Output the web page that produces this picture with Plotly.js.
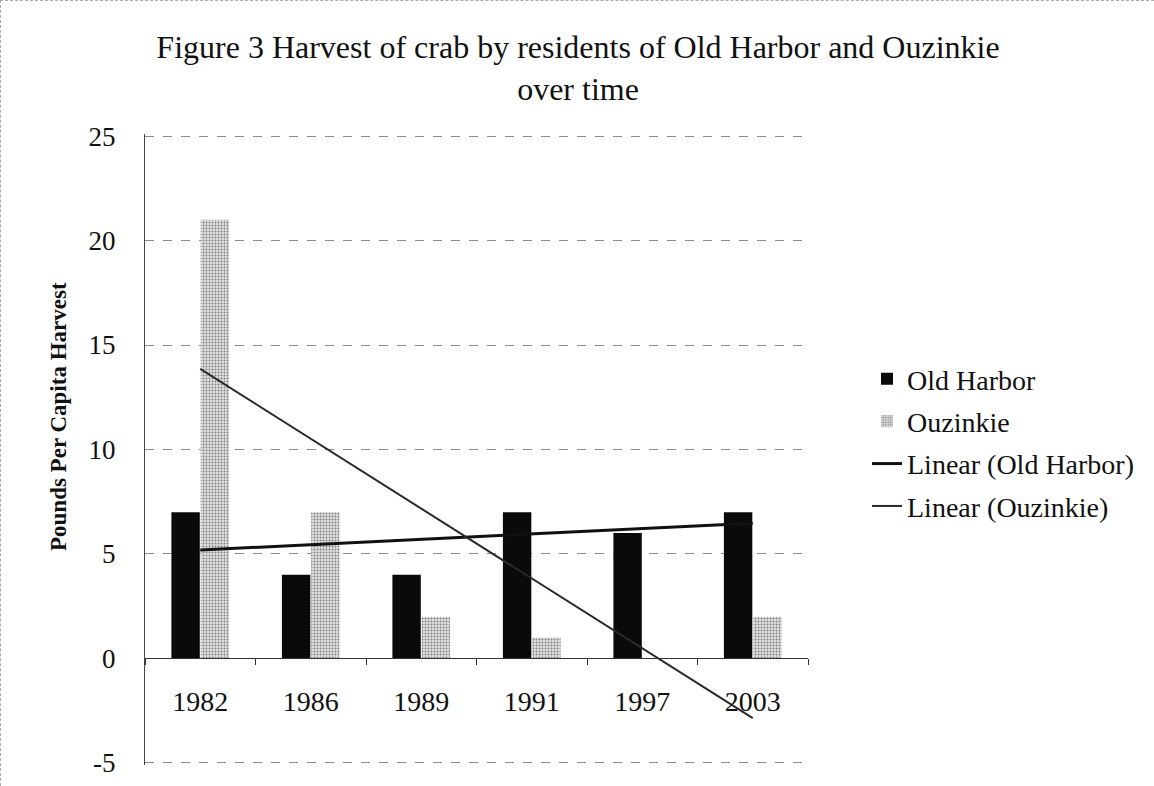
<!DOCTYPE html>
<html>
<head>
<meta charset="utf-8">
<script src="https://cdn.plot.ly/plotly-3.0.1.min.js"></script>
<style>
  body { margin: 0; background: #fff; }
  #chart { width: 1154px; height: 786px; box-sizing: border-box; border: 1px dashed #aaa; }
</style>
</head>
<body>
<div id="chart"></div>
<script>
// data
var years = ["1982", "1986", "1989", "1991", "1997", "2003"];
var oldHarbor = [7, 4, 4, 7, 6, 7];
var ouzinkie = [21, 7, 2, 1, 0, 2];
var yTicks = [-5, 0, 5, 10, 15, 20, 25];
var yTickText = ["-5", "0", "5", "10", "15", "20", "25"];

// Excel style linear trend line (least squares over category index 1..n)
function linearTrend(vals) {
    var n = vals.length;
    var xs = vals.map((v, i) => i + 1);
    var mx = xs.reduce((a, b) => a + b, 0) / n;
    var my = vals.reduce((a, b) => a + b, 0) / n;
    var sxy = 0, sxx = 0;
    for (var i = 0; i < n; i++) {
        sxy += (xs[i] - mx) * (vals[i] - my);
        sxx += (xs[i] - mx) * (xs[i] - mx);
    }
    var slope = sxy / sxx;
    return xs.map(x => my + slope * (x - mx));
}

var serif = "Liberation Serif, DejaVu Serif, serif";

var traceOH = {
    x: years, y: oldHarbor, type: "bar", name: "Old Harbor",
    legendgroup: "a",
    marker: {color: "#0a0a0a"}
};
var traceOU = {
    x: years, y: ouzinkie, type: "bar", name: "Ouzinkie",
    legendgroup: "b",
    marker: {color: "#d4d4d4", pattern: {shape: ".", fgcolor: "#808080", bgcolor: "#e2e2e2", size: 3, solidity: 0.35}}
};
var trendOH = {
    x: years, y: linearTrend(oldHarbor), type: "scatter", mode: "lines",
    name: "Linear (Old Harbor)", legendgroup: "c",
    line: {color: "#111", width: 3}
};
var trendOU = {
    x: years, y: linearTrend(ouzinkie), type: "scatter", mode: "lines",
    name: "Linear (Ouzinkie)", legendgroup: "d",
    line: {color: "#2a2a2a", width: 2}
};

var data = [traceOH, traceOU, trendOH, trendOU];

var layout = {
    width: 1154, height: 786,
    paper_bgcolor: "#fff", plot_bgcolor: "#fff",
    margin: {l: 144, r: 347, t: 133, b: 22},
    font: {family: serif, color: "#111", size: 27},
    title: {
        text: "Figure 3 Harvest of crab by residents of Old Harbor and Ouzinkie<br>over time",
        font: {family: serif, size: 32, color: "#111"},
        x: 0.5, xanchor: "center", y: 0.927, yanchor: "top"
    },
    barmode: "group",
    bargap: 0.47,
    bargroupgap: 0.03,
    xaxis: {
        type: "category",
        anchor: "free",
        position: 5.1 / 30.2,
        showline: true, linecolor: "#333", linewidth: 1,
        showgrid: false,
        ticks: "outside", ticklen: 6, tickcolor: "#333",
        tickson: "boundaries",
        ticklabelstandoff: 18,
        tickfont: {size: 28}
    },
    yaxis: {
        range: [-5.1, 25.1],
        tickvals: yTicks, ticktext: yTickText,
        showline: true, linecolor: "#444", linewidth: 1,
        showgrid: true, gridcolor: "#8a8a8a", griddash: "dash", gridwidth: 1,
        zeroline: false,
        ticks: "", ticklabelstandoff: 23,
        tickfont: {size: 27}
    },
    annotations: [{
        text: "<b>Pounds Per Capita Harvest</b>",
        xref: "paper", yref: "paper",
        x: (58 - 144) / 663, y: (764 - 415) / 631,
        xanchor: "center", yanchor: "middle",
        textangle: -90, showarrow: false,
        font: {family: serif, size: 23, color: "#111"}
    }],
    legend: {
        x: 1.089, xanchor: "left", xref: "paper",
        y: 0.511, yanchor: "middle",
        font: {size: 28},
        traceorder: "grouped",
        tracegroupgap: 3,
        bgcolor: "rgba(0,0,0,0)"
    },
    showlegend: true
};

Plotly.newPlot("chart", data, layout, {staticPlot: true});
</script>
</body>
</html>
